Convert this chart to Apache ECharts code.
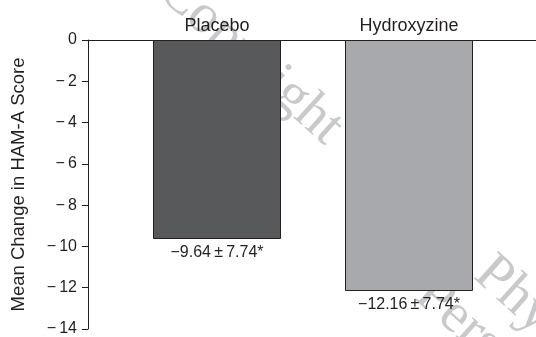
<!DOCTYPE html>
<html>
<head>
<meta charset="utf-8">
<script src="https://cdn.jsdelivr.net/npm/echarts@6/dist/echarts.min.js"></script>
<style>
  html, body { margin: 0; padding: 0; background: #ffffff; }
  #chart { width: 536px; height: 337px; }
</style>
</head>
<body>
<div id="chart"></div>
<script>
// Mean change in HAM-A score by treatment group
const categories = ['Placebo', 'Hydroxyzine'];
const meanChange = [-9.64, -12.16];
const sdValues = [7.74, 7.74];
const barColors = ['#58595b', '#a7a9ac'];
const yTickValues = [0, -2, -4, -6, -8, -10, -12, -14];

const ink = '#231f20';
const sans = '"Liberation Sans", Arial, Helvetica, sans-serif';
const markFill = '#c8c9cb';
const markFont = '56px "Liberation Serif", "Times New Roman", serif';
const markAngle = -42 * Math.PI / 180;

// tick labels: U+2212 minus followed by a thin space
const fmtTick = v => (v < 0 ? '\u2212\u2009' : '') + Math.abs(v);
const fmtBar = (v, sd) => '\u2212' + Math.abs(v).toFixed(2) + '\u2009\u00b1\u2009' + sd.toFixed(2) + '*';

const chart = echarts.init(document.getElementById('chart'), null, { renderer: 'canvas' });

chart.setOption({
  animation: false,
  backgroundColor: '#ffffff',
  grid: [
    { left: 121, width: 384, top: 40, height: 291 },
    { left: 88, right: 0, top: 40, height: 291 }
  ],
  // diagonal watermark, drawn beneath the bars
  graphic: {
    elements: [
      {
        type: 'text', z: 0, x: 166, y: -17, rotation: markAngle,
        style: { text: 'Copyright', font: markFont, fill: markFill, verticalAlign: 'middle' }
      },
      {
        type: 'text', z: 0, x: 482, y: 266, rotation: markAngle,
        style: { text: 'Physicians', font: markFont, fill: markFill, verticalAlign: 'middle' }
      },
      {
        type: 'text', z: 0, x: 423, y: 287, rotation: markAngle,
        style: { text: 'Personal', font: markFont, fill: markFill, verticalAlign: 'middle' }
      }
    ]
  },
  xAxis: [
    {
      type: 'category',
      gridIndex: 0,
      data: categories,
      position: 'top',
      axisLine: { show: false },
      axisTick: { show: false },
      axisLabel: { color: ink, fontFamily: sans, fontSize: 18, margin: 5 },
      z: 5
    },
    {
      type: 'category',
      gridIndex: 1,
      data: [''],
      position: 'top',
      axisLine: { show: true, lineStyle: { color: ink, width: 1 } },
      axisTick: { show: false },
      axisLabel: { show: false }
    }
  ],
  yAxis: [
    {
      type: 'value',
      gridIndex: 0,
      min: -14,
      max: 0,
      interval: 2,
      offset: 33,
      position: 'left',
      name: 'Mean Change in HAM-A Score',
      nameLocation: 'middle',
      nameGap: 60,
      nameTextStyle: { color: ink, fontFamily: sans, fontSize: 18.5 },
      axisLine: { show: true, lineStyle: { color: ink, width: 1 } },
      axisTick: { show: true, length: 6, lineStyle: { color: ink, width: 1 } },
      axisLabel: {
        color: ink, fontFamily: sans, fontSize: 16, margin: 11,
        formatter: v => yTickValues.includes(v) ? fmtTick(v) : ''
      },
      splitLine: { show: false }
    },
    {
      type: 'value',
      gridIndex: 1,
      min: -14,
      max: 0,
      show: false
    }
  ],
  series: [
    {
      type: 'bar',
      xAxisIndex: 0,
      yAxisIndex: 0,
      barWidth: 128,
      z: 2,
      data: meanChange.map((v, i) => ({
        value: v,
        itemStyle: { color: barColors[i], borderColor: ink, borderWidth: 1 }
      })),
      label: {
        show: true,
        position: 'bottom',
        distance: 6,
        color: ink,
        fontFamily: sans,
        fontSize: 16,
        formatter: p => fmtBar(meanChange[p.dataIndex], sdValues[p.dataIndex])
      }
    }
  ]
});
</script>
</body>
</html>
